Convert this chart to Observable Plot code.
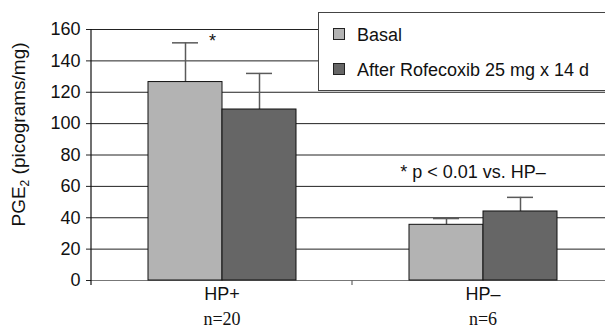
<!DOCTYPE html>
<html>
<head>
<meta charset="utf-8">
<script src="https://cdn.jsdelivr.net/npm/d3@7"></script>
<script src="https://cdn.jsdelivr.net/npm/@observablehq/plot@0.6"></script>
<style>
  html, body { margin: 0; padding: 0; background: #fff; }
  #wrap { position: relative; width: 605px; height: 331px; overflow: hidden; font-family: "Liberation Sans", Arial, sans-serif; }
  #legend { position: absolute; left: 318px; top: 12px; width: 300px; height: 79px; background: #fff; border: 1.5px solid #444; box-sizing: border-box; }
  .sw { position: absolute; width: 12px; height: 12px; border: 1px solid #222; box-sizing: border-box; }
  .lt { position: absolute; font-size: 18px; color: #111; white-space: nowrap; line-height: 18px; }
</style>
</head>
<body>
<div id="wrap"></div>
<script>
// ---- data ----
const groups = ["HP+", "HP–"];
const groupN = ["n=20", "n=6"];
const seriesNames = ["Basal", "After Rofecoxib 25 mg x 14 d"];
const seriesColors = ["#b3b3b3", "#666666"];
const basalValues = [126.5, 35.5];
const basalSD = [25, 4];
const afterValues = [109, 44];
const afterSD = [23, 9];
const yTicks = [0, 20, 40, 60, 80, 100, 120, 140, 160];
const annotations = [
  {group: "HP+", series: "Basal", y: 152.7, text: "*"},
  {group: "HP–", series: null, y: 68.7, text: "* p < 0.01 vs. HP–"}
];

const rows = [];
groups.forEach((g, i) => {
  rows.push({group: g, series: seriesNames[0], value: basalValues[i], sd: basalSD[i]});
  rows.push({group: g, series: seriesNames[1], value: afterValues[i], sd: afterSD[i]});
});
const groupRows = groups.map((g, i) => ({group: g, n: groupN[i]}));

const font = '"Liberation Sans", Arial, sans-serif';

const chart = Plot.plot({
  width: 605,
  height: 331,
  marginLeft: 91,
  marginRight: -8,
  marginTop: 29,
  marginBottom: 51,
  style: {fontFamily: font, fontSize: "18px", color: "#111", background: "transparent", overflow: "visible"},
  fx: {domain: groups, padding: 0, axis: null, label: null},
  x: {domain: seriesNames, paddingInner: 0, paddingOuter: 0.75, axis: null},
  y: {domain: [0, 160], label: null},
  color: {domain: seriesNames, range: seriesColors},
  marks: [
    Plot.ruleY(yTicks.filter(d => d > 0), {stroke: "#222", strokeWidth: 1}),
    Plot.ruleY([0], {stroke: "#777", strokeWidth: 1.2}),
    Plot.axisY(yTicks, {tickSize: 5, tickPadding: 6, stroke: "#222", fontSize: 18, fill: "#111"}),
    Plot.ruleX(rows, {fx: "group", x: "series", y1: "value", y2: d => d.value + d.sd, stroke: "#5a5a5a", strokeWidth: 1.5}),
    Plot.tickY(rows, {fx: "group", x: "series", y: d => d.value + d.sd, stroke: "#5a5a5a", strokeWidth: 1.5, insetLeft: 24, insetRight: 24}),
    Plot.barY(rows, {fx: "group", x: "series", y: "value", fill: "series", stroke: "#111", strokeWidth: 1}),
    Plot.text(groupRows, {fx: "group", text: "group", frameAnchor: "bottom", dy: 19, fontSize: 18, fill: "#111"}),
    Plot.text(groupRows, {fx: "group", text: "n", frameAnchor: "bottom", dy: 44, fontSize: 18, fill: "#111", fontFamily: '"Liberation Serif", "Times New Roman", serif'}),
    Plot.text(annotations.filter(d => d.series), {fx: "group", x: "series", y: "y", text: "text", dx: 27, fontSize: 18, fill: "#111"}),
    Plot.text(annotations.filter(d => !d.series), {fx: "group", y: "y", text: "text", dx: -10, fontSize: 18, fill: "#111"})
  ]
});

const wrap = document.getElementById("wrap");
wrap.appendChild(chart);

// axis line and category-boundary tick, positioned through Plot's scales
const svg = d3.select(chart.tagName === "svg" ? chart : chart.querySelector("svg"));
const yS = chart.scale("y");
const fxS = chart.scale("fx");
const yPix = v => yS.apply ? yS.apply(v) : (yS.range[0] + (v - yS.domain[0]) / (yS.domain[1] - yS.domain[0]) * (yS.range[1] - yS.range[0]));
const fxPix = g => fxS.apply ? fxS.apply(g) : fxS.range[0] + groups.indexOf(g) * fxS.step;
const x0 = fxPix(groups[0]);
const y0 = yPix(0), yTop = yPix(160);
svg.append("line").attr("x1", x0).attr("x2", x0).attr("y1", yTop).attr("y2", y0 + 5).attr("stroke", "#111").attr("stroke-width", 1.2);
groups.slice(1).forEach(g => {
  const xb = fxPix(g);
  svg.append("line").attr("x1", xb).attr("x2", xb).attr("y1", y0).attr("y2", y0 + 5).attr("stroke", "#666").attr("stroke-width", 1.2);
});

// y axis title with subscript
const yt = svg.append("text")
  .attr("transform", `translate(25, ${(y0 + yTop) / 2 - 20}) rotate(-90)`)
  .attr("text-anchor", "middle")
  .attr("font-family", font)
  .attr("font-size", 19)
  .attr("fill", "#111");
yt.append("tspan").text("PGE");
yt.append("tspan").attr("font-size", 12).attr("dy", 4).text("2");
yt.append("tspan").attr("dy", -4).text(" (picograms/mg)");

// legend
const legend = document.createElement("div");
legend.id = "legend";
seriesNames.forEach((name, i) => {
  const sw = document.createElement("div");
  sw.className = "sw";
  sw.style.left = "14px";
  sw.style.top = (15 + i * 35) + "px";
  sw.style.background = seriesColors[i];
  legend.appendChild(sw);
  const t = document.createElement("div");
  t.className = "lt";
  t.style.left = "38px";
  t.style.top = (13 + i * 35) + "px";
  t.textContent = name;
  legend.appendChild(t);
});
wrap.appendChild(legend);
</script>
</body>
</html>
